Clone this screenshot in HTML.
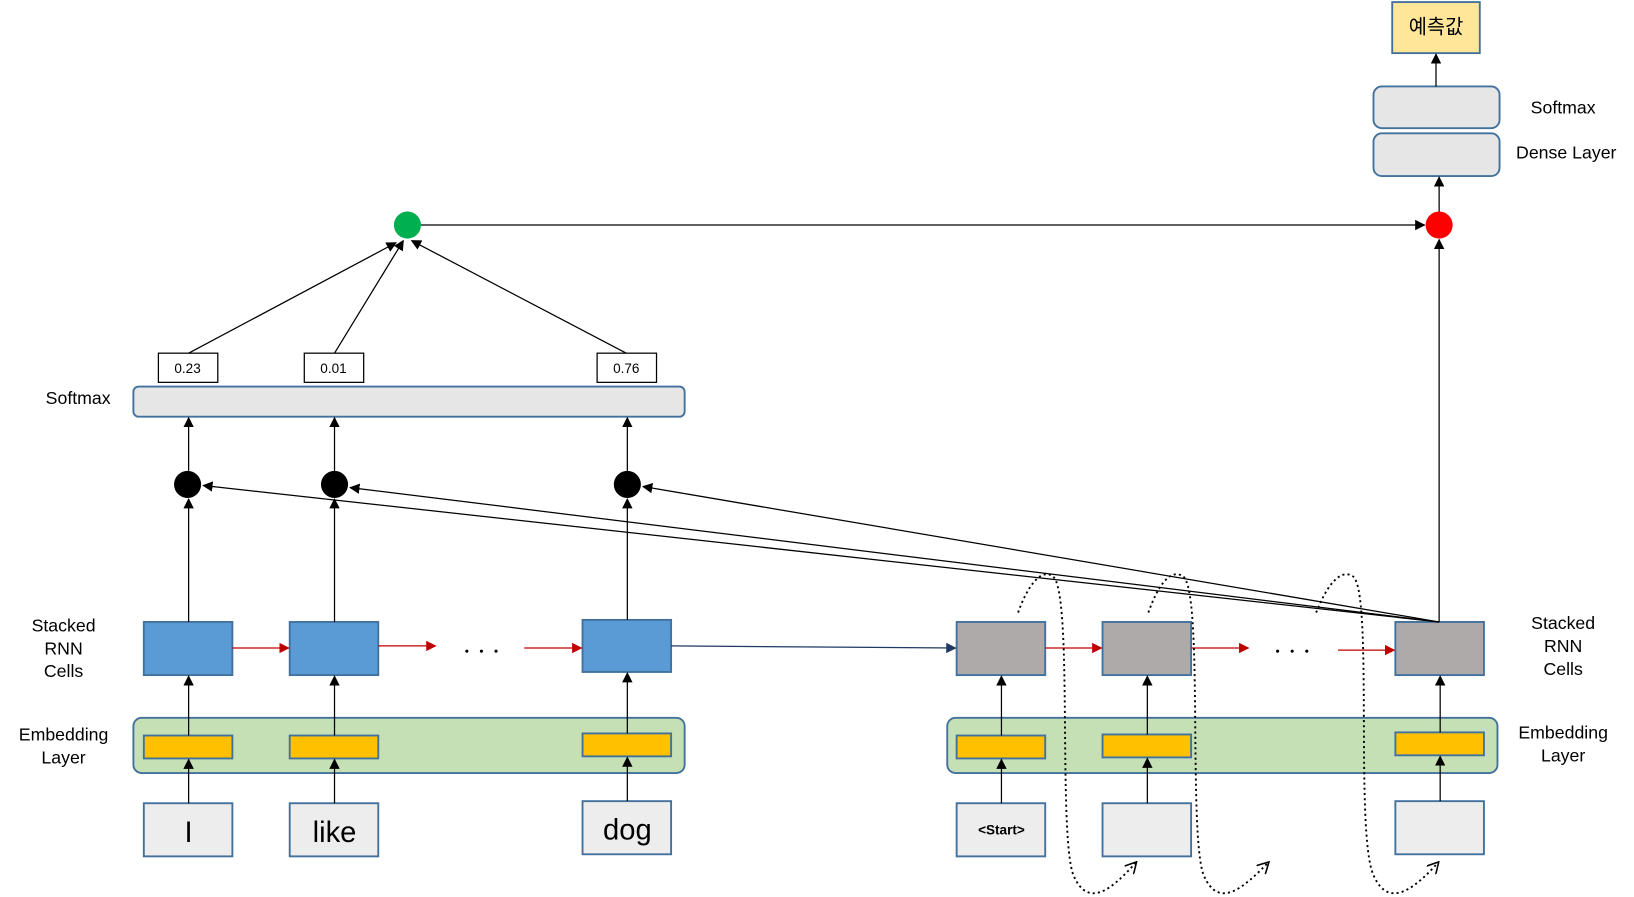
<!DOCTYPE html>
<html><head><meta charset="utf-8"><style>html,body{margin:0;padding:0;background:#fff}svg{display:block}text{font-family:"Liberation Sans","Noto Sans CJK KR",sans-serif;fill:#000}</style></head><body>
<svg width="1634" height="897" viewBox="0 0 1568 861" preserveAspectRatio="none" xmlns="http://www.w3.org/2000/svg">
<defs>
<marker id="ab" markerWidth="10" markerHeight="10" refX="9" refY="5" orient="auto" markerUnits="userSpaceOnUse"><path d="M0,0 L10,5 L0,10 z" fill="#000"/></marker>
<marker id="ar" markerWidth="10" markerHeight="10" refX="9" refY="5" orient="auto" markerUnits="userSpaceOnUse"><path d="M0,0 L10,5 L0,10 z" fill="#c00000"/></marker>
<marker id="an" markerWidth="10" markerHeight="10" refX="9" refY="5" orient="auto" markerUnits="userSpaceOnUse"><path d="M0,0 L10,5 L0,10 z" fill="#1f3864"/></marker>
<marker id="ad" markerWidth="12" markerHeight="12" refX="10" refY="6" orient="auto" markerUnits="userSpaceOnUse"><path d="M0,0 L11,6 L0,12" fill="none" stroke="#000" stroke-width="1.5"/></marker>
</defs>
<g stroke="#41719c" stroke-width="1.8">
<rect x="128" y="689" width="529" height="53" rx="8" fill="#c5e0b4"/>
<rect x="909" y="689" width="528" height="53" rx="8" fill="#c5e0b4"/>
<rect x="128" y="371" width="529" height="29" rx="5" fill="#e6e6e6"/>
<rect x="1318" y="83" width="121" height="40" rx="8" fill="#e6e6e6"/>
<rect x="1318" y="128" width="121" height="41" rx="8" fill="#e6e6e6"/>
<rect x="1336" y="2" width="84" height="49" fill="#ffe699"/>
<g fill="#ededed">
<rect x="138" y="771" width="85" height="51"/><rect x="278" y="771" width="85" height="51"/><rect x="559" y="769" width="85" height="51"/>
<rect x="918" y="771" width="85" height="51"/><rect x="1058" y="771" width="85" height="51"/><rect x="1339" y="769" width="85" height="51"/>
</g>
<g fill="#ffc000">
<rect x="138" y="706" width="85" height="22"/><rect x="278" y="706" width="85" height="22"/><rect x="559" y="704" width="85" height="22"/>
<rect x="918" y="706" width="85" height="22"/><rect x="1058" y="705" width="85" height="22"/><rect x="1339" y="703" width="85" height="22"/>
</g>
<g fill="#5b9bd5"><rect x="138" y="597" width="85" height="51"/><rect x="278" y="597" width="85" height="51"/><rect x="559" y="595" width="85" height="50"/></g>
<g fill="#aeaaaa"><rect x="918" y="597" width="85" height="51"/><rect x="1058" y="597" width="85" height="51"/><rect x="1339" y="597" width="85" height="51"/></g>
</g>
<g stroke="#000" stroke-width="1.2" fill="#fff">
<rect x="152" y="339" width="57" height="28"/><rect x="292" y="339" width="57" height="28"/><rect x="573" y="339" width="57" height="28"/>
</g>
<g stroke="#000" stroke-width="1.2" fill="none" marker-end="url(#ab)">
<line x1="181" y1="771" x2="181" y2="729"/><line x1="321" y1="771" x2="321" y2="729"/><line x1="602" y1="769" x2="602" y2="727"/>
<line x1="181" y1="706" x2="181" y2="649"/><line x1="321" y1="706" x2="321" y2="649"/><line x1="602" y1="704" x2="602" y2="646"/>
<line x1="181" y1="597" x2="181" y2="479"/><line x1="321" y1="597" x2="321" y2="479"/><line x1="602" y1="595" x2="602" y2="479"/>
<line x1="181" y1="452" x2="181" y2="401"/><line x1="321" y1="452" x2="321" y2="401"/><line x1="602" y1="452" x2="602" y2="401"/>
<line x1="181" y1="339" x2="380" y2="233"/><line x1="321" y1="339" x2="387" y2="231"/><line x1="601" y1="339" x2="395" y2="231"/>
<line x1="404" y1="216" x2="1367" y2="216"/>
<line x1="961" y1="771" x2="961" y2="729"/><line x1="1101" y1="771" x2="1101" y2="728"/><line x1="1382" y1="769" x2="1382" y2="726"/>
<line x1="961" y1="706" x2="961" y2="649"/><line x1="1101" y1="705" x2="1101" y2="649"/><line x1="1382" y1="703" x2="1382" y2="649"/>
<line x1="1381" y1="597" x2="195" y2="466"/><line x1="1381" y1="597" x2="336" y2="468"/><line x1="1381" y1="597" x2="617" y2="467"/>
<line x1="1381" y1="597" x2="1381" y2="230"/>
<line x1="1381" y1="203" x2="1381" y2="170"/>
<line x1="1378" y1="83" x2="1378" y2="52"/>
</g>
<g stroke="#c00000" stroke-width="1.2" marker-end="url(#ar)">
<line x1="223" y1="622" x2="277" y2="622"/><line x1="363" y1="620" x2="418" y2="620"/><line x1="503" y1="622" x2="558" y2="622"/>
<line x1="1003" y1="622" x2="1057" y2="622"/><line x1="1143" y1="622" x2="1198" y2="622"/><line x1="1284" y1="624" x2="1338" y2="624"/>
</g>
<line x1="644" y1="620" x2="917" y2="622" stroke="#1f3864" stroke-width="1.2" marker-end="url(#an)"/>
<circle cx="180" cy="465" r="13" fill="#000"/><circle cx="321" cy="465" r="13" fill="#000"/><circle cx="602" cy="465" r="13" fill="#000"/>
<circle cx="391" cy="216" r="13" fill="#00b050"/><circle cx="1381" cy="216" r="13" fill="#ff0000"/>
<g fill="#000"><circle cx="448" cy="625" r="1.5"/><circle cx="462" cy="625" r="1.5"/><circle cx="476" cy="625" r="1.5"/><circle cx="1226" cy="625" r="1.5"/><circle cx="1240" cy="625" r="1.5"/><circle cx="1254" cy="625" r="1.5"/></g>
<g stroke="#000" stroke-width="1.8" stroke-dasharray="2,3" fill="none" marker-end="url(#ad)">
<path d="M977,588 C985,565 998,545 1010,553 C1030,565 1015,800 1030,840 C1045,875 1070,850 1090,828"/>
<path d="M1102,588 C1110,565 1122,545 1135,553 C1155,565 1140,800 1155,840 C1170,875 1195,850 1217,828"/>
<path d="M1263,588 C1272,565 1285,545 1298,553 C1318,565 1300,800 1318,840 C1333,875 1360,850 1380,828"/>
</g>
<g font-size="13" text-anchor="middle"><text x="180" y="358">0.23</text><text x="320" y="358">0.01</text><text x="601" y="358">0.76</text></g>
<g font-size="28" text-anchor="middle"><text x="181" y="808">I</text><text x="321" y="808">like</text><text x="602" y="806">dog</text></g>
<text x="961" y="801" font-size="13" font-weight="bold" text-anchor="middle">&lt;Start&gt;</text>
<text x="1378" y="32" font-size="19" text-anchor="middle">예측값</text>
<g font-size="17" text-anchor="middle">
<text x="1500" y="109">Softmax</text><text x="1503" y="152">Dense Layer</text>
<text x="1500" y="604">Stacked</text><text x="1500" y="626">RNN</text><text x="1500" y="648">Cells</text>
<text x="1500" y="709">Embedding</text><text x="1500" y="731">Layer</text>
<text x="61" y="606">Stacked</text><text x="61" y="628">RNN</text><text x="61" y="650">Cells</text>
<text x="61" y="711">Embedding</text><text x="61" y="733">Layer</text>
<text x="75" y="388">Softmax</text>
</g>
</svg>
</body></html>
